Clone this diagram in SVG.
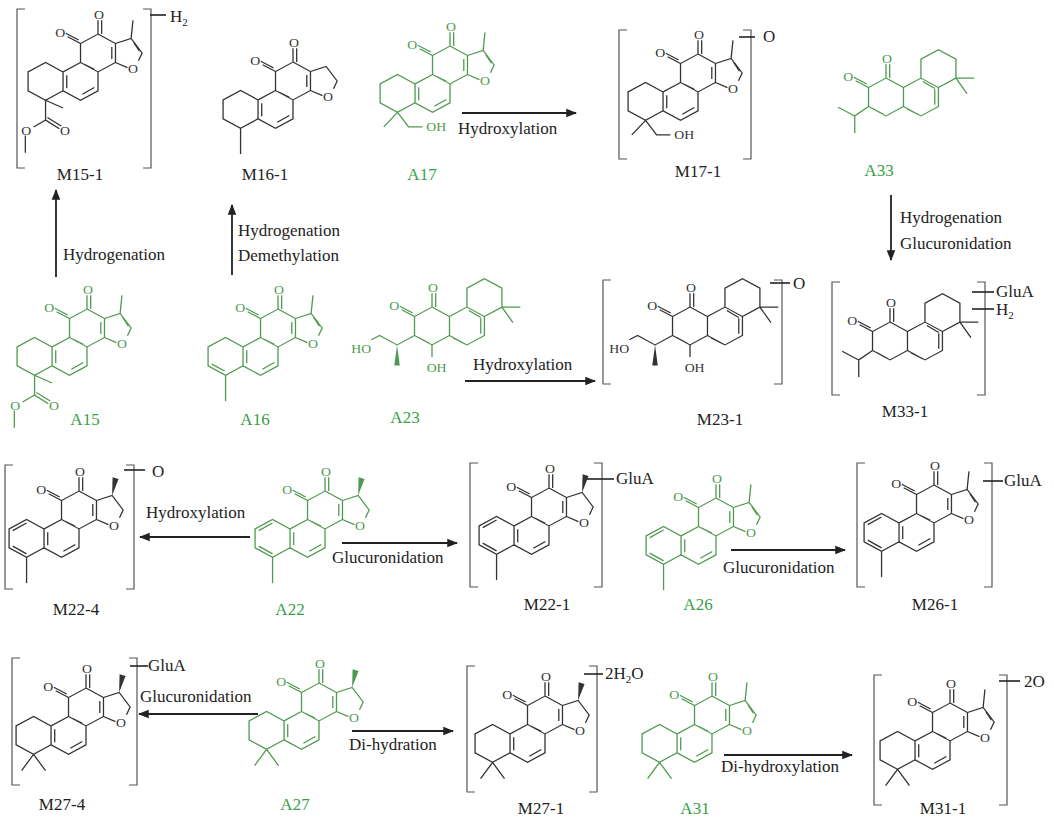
<svg xmlns="http://www.w3.org/2000/svg" width="1054" height="822" viewBox="0 0 1054 822">
<style>
text{font-family:"Liberation Serif","Times New Roman",serif;font-size:17px;fill:#222}
.g{fill:#3a9e48}
.at{font-size:15px;fill:currentColor;text-anchor:middle}
.b{fill:none;stroke:currentColor;stroke-width:1.4}
.w{fill:currentColor;stroke:none}
.br{fill:none;stroke:#555;stroke-width:1.2}
.tk{stroke:#222;stroke-width:1.6}
.ar{stroke:#222;stroke-width:1.8;marker-end:url(#ah)}
.lb{text-anchor:middle}
.gr{color:#4f9a4f}
.bk{color:#333}
</style>
<defs>
<marker id="ah" viewBox="0 0 10 10" refX="9" refY="5" markerWidth="6" markerHeight="6" orient="auto"><path d="M0,1 L10,5 L0,9Z" fill="#222"/></marker>
<g id="sk">
<path class="b" d="M0,-22 L19,-11 L19,11 L0,22 L-19,11 L-19,-11Z M0,22 L0,44 L-19,55 L-38,44 L-38,22 L-19,11 M-38,22 L-57,11 L-76,22 L-76,44 L-57,55 L-38,44 M19,-11 L36,-17 L48,0 L44,9 M32,17 L19,11 M0,-22 V-38 M4,-22 V-38 M-19,-11 L-33,-19 M-21,-15 L-35,-23 M-4,40 L-17,48 M-34,26 L-34,41 M15,-7 L15,7 M-15,13 L-4,19"/>
<text class="at" x="38" y="23">O</text>
<text class="at" x="1" y="-40">O</text>
<text class="at" x="-41" y="-19">O</text>
</g>
<path id="fme" class="b" d="M36,-17 L38,-38 M39,-12 L45,-2"/>
<path id="wedge" class="w" d="M36,-17 L36.5,-38 L43,-36Z"/>
<path id="arA" class="b" d="M-57,15 L-72,24 M-72,42 L-57,51"/>
<path id="meA" class="b" d="M-57,55 V85"/>
<path id="gem" class="b" d="M-57,55 L-70,74 M-57,55 L-44,74"/>
<g id="ester"><path class="b" d="M-57,55 L-38,64 M-57,55 L-57,78 L-42,88 M-55,75 L-40,85 M-57,78 L-70,86 M-79,96 V116"/><text class="at" x="-36" y="95">O</text><text class="at" x="-78" y="95">O</text></g>
<g id="ch2oh"><path class="b" d="M-57,55 L-72,72 M-57,55 L-45,72 L-30,72"/><text class="at" x="-15" y="77">OH</text></g>
<g id="sk2">
<path class="b" d="M0,-22 L19,-11 L19,11 L0,22 L-19,11 L-19,-11Z M19,-11 L38,-22 L57,-11 L57,11 L38,22 L19,11 M38,-22 L38,-44 L57,-55 L76,-44 L76,-22 L57,-11 M76,-22 L96,-22 M76,-22 L88,-4 M0,-22 V-38 M4,-22 V-38 M-19,-11 L-33,-19 M-21,-15 L-35,-23 M53,-9 V9 M23,14 L36,21 M40,-18 L53,-10 M-15,13 L-3,20"/>
<text class="at" x="1" y="-40">O</text>
<text class="at" x="-41" y="-19">O</text>
</g>
<path id="ipr" class="b" d="M-19,11 L-34,22 L-34,42 M-34,22 L-52,12"/>
<g id="hoch"><path class="b" d="M-19,11 L-38,22 L-57,11 L-66,16 M0,22 V36"/><path class="w" d="M-38,22 L-41,46 L-35,46Z"/><text class="at" x="-77" y="31">HO</text><text class="at" x="5" y="53">OH</text></g>
</defs>

<g id="connectors">
<line class="ar" x1="56" y1="277" x2="56" y2="190"/>
<line class="ar" x1="232" y1="275" x2="232" y2="205"/>
<line class="ar" x1="462" y1="113" x2="576" y2="113"/>
<line class="ar" x1="891" y1="195" x2="891" y2="260"/>
<line class="ar" x1="465" y1="381" x2="595" y2="381"/>
<line class="ar" x1="250" y1="537" x2="140" y2="537"/>
<line class="ar" x1="342" y1="543" x2="457" y2="543"/>
<line class="ar" x1="731" y1="550" x2="845" y2="550"/>
<line class="ar" x1="258" y1="714" x2="139" y2="714"/>
<line class="ar" x1="352" y1="731" x2="453" y2="731"/>
<line class="ar" x1="724" y1="755" x2="852" y2="755"/>
<text x="63" y="260">Hydrogenation</text>
<text x="238" y="236">Hydrogenation</text>
<text x="238" y="261">Demethylation</text>
<text x="458" y="134">Hydroxylation</text>
<text x="900" y="223">Hydrogenation</text>
<text x="900" y="249">Glucuronidation</text>
<text x="473" y="370">Hydroxylation</text>
<text x="146" y="518">Hydroxylation</text>
<text x="332" y="563">Glucuronidation</text>
<text x="723" y="573">Glucuronidation</text>
<text x="140" y="702">Glucuronidation</text>
<text x="349" y="750">Di-hydration</text>
<text x="721" y="772">Di-hydroxylation</text>
</g>

<g id="M15-1" class="bk"><g transform="translate(98,53) scale(0.92,0.86)"><use href="#sk"/><use href="#fme"/><use href="#ester"/></g>
<path class="br" d="M25,9 H17 V168 H25 M143,9 H151 V168 H143"/><path class="tk" d="M150,15 H166"/><text x="170" y="22">H<tspan font-size="11" dy="4">2</tspan></text><text class="lb" x="80" y="180">M15-1</text></g>
<g id="M16-1" class="bk"><g transform="translate(293,81) scale(0.92,0.86)"><use href="#sk"/><use href="#meA"/></g><text class="lb" x="265" y="180">M16-1</text></g>
<g id="A17" class="gr"><g transform="translate(450,65) scale(0.92,0.86)"><use href="#sk"/><use href="#fme"/><use href="#ch2oh"/></g><text class="lb g" x="422" y="180">A17</text></g>
<g id="M17-1" class="bk"><g transform="translate(698,73) scale(0.92,0.86)"><use href="#sk"/><use href="#fme"/><use href="#ch2oh"/></g>
<path class="br" d="M627,30 H619 V159 H627 M743,30 H751 V159 H743"/><path class="tk" d="M739,37 H755"/><text x="763" y="42">O</text><text class="lb" x="698" y="177">M17-1</text></g>
<g id="A33" class="gr"><g transform="translate(886,97) scale(0.92,0.86)"><use href="#sk2"/><use href="#ipr"/></g><text class="lb g" x="879" y="176">A33</text></g>

<g id="A15" class="gr"><g transform="translate(87,328) scale(0.92,0.86)"><use href="#sk"/><use href="#fme"/><use href="#ester"/></g><text class="lb g" x="85" y="425">A15</text></g>
<g id="A16" class="gr"><g transform="translate(278,328) scale(0.92,0.86)"><use href="#sk"/><use href="#fme"/><use href="#meA"/><path class="b" d="M-72,42 L-58,50"/></g><text class="lb g" x="255" y="425">A16</text></g>
<g id="A23" class="gr"><g transform="translate(432,326) scale(0.92,0.86)"><use href="#sk2"/><use href="#hoch"/></g><text class="lb g" x="405" y="423">A23</text></g>
<g id="M23-1" class="bk"><g transform="translate(690,326) scale(0.92,0.86)"><use href="#sk2"/><use href="#hoch"/></g>
<path class="br" d="M611,280 H603 V384 H611 M774,280 H782 V384 H774"/><path class="tk" d="M770,283 H790"/><text x="793" y="289">O</text><text class="lb" x="720" y="425">M23-1</text></g>
<g id="M33-1" class="bk"><g transform="translate(890,341) scale(0.92,0.86)"><use href="#sk2"/><use href="#ipr"/></g>
<path class="br" d="M840,282 H832 V395 H840 M977,282 H985 V395 H977"/><path class="tk" d="M972,292 H994"/><path class="tk" stroke-width="3" d="M972,309 H994"/><text x="996" y="297">GluA</text><text x="996" y="315">H<tspan font-size="11" dy="4">2</tspan></text><text class="lb" x="905" y="417">M33-1</text></g>

<g id="M22-4" class="bk"><g transform="translate(79,510) scale(0.92,0.86)"><use href="#sk"/><use href="#wedge"/><use href="#arA"/><use href="#meA"/></g>
<path class="br" d="M13,465 H5 V589 H13 M126,465 H134 V589 H126"/><path class="tk" d="M124,470 H145"/><text x="152" y="477" font-size="15">O</text><text class="lb" x="76" y="615">M22-4</text></g>
<g id="A22" class="gr"><g transform="translate(325,510) scale(0.92,0.86)"><use href="#sk"/><use href="#wedge"/><use href="#arA"/><use href="#meA"/></g><text class="lb g" x="290" y="615">A22</text></g>
<g id="M22-1" class="bk"><g transform="translate(549,507) scale(0.92,0.86)"><use href="#sk"/><use href="#wedge"/><use href="#arA"/><use href="#meA"/></g>
<path class="br" d="M478,463 H470 V587 H478 M594,463 H602 V587 H594"/><path class="tk" d="M587,479 H614"/><text x="616" y="484">GluA</text><text class="lb" x="547" y="610">M22-1</text></g>
<g id="A26" class="gr"><g transform="translate(716,517) scale(0.92,0.86)"><use href="#sk"/><use href="#fme"/><use href="#arA"/><use href="#meA"/></g><text class="lb g" x="698" y="610">A26</text></g>
<g id="M26-1" class="bk"><g transform="translate(934,504) scale(0.92,0.86)"><use href="#sk"/><use href="#fme"/><use href="#arA"/><use href="#meA"/></g>
<path class="br" d="M865,463 H857 V587 H865 M984,463 H992 V587 H984"/><path class="tk" d="M983,481 H1003"/><text x="1004" y="486">GluA</text><text class="lb" x="935" y="610">M26-1</text></g>

<g id="M27-4" class="bk"><g transform="translate(86,707) scale(0.92,0.86)"><use href="#sk"/><use href="#wedge"/><use href="#gem"/></g>
<path class="br" d="M20,658 H12 V785 H20 M129,658 H137 V785 H129"/><path class="tk" d="M130,666 H148"/><text x="148" y="671">GluA</text><text class="lb" x="62" y="810">M27-4</text></g>
<g id="A27" class="gr"><g transform="translate(319,702) scale(0.92,0.86)"><use href="#sk"/><use href="#wedge"/><use href="#gem"/></g><text class="lb g" x="295" y="810">A27</text></g>
<g id="M27-1" class="bk"><g transform="translate(545,715) scale(0.92,0.86)"><use href="#sk"/><use href="#wedge"/><use href="#gem"/></g>
<path class="br" d="M475,666 H467 V792 H475 M589,666 H597 V792 H589"/><path class="tk" d="M584,674 H603"/><text x="605" y="679">2H<tspan font-size="11" dy="4">2</tspan><tspan dy="-4">O</tspan></text><text class="lb" x="541" y="814">M27-1</text></g>
<g id="A31" class="gr"><g transform="translate(712,715) scale(0.92,0.86)"><use href="#sk"/><use href="#fme"/><use href="#gem"/></g><text class="lb g" x="695" y="814">A31</text></g>
<g id="M31-1" class="bk"><g transform="translate(950,722) scale(0.92,0.86)"><use href="#sk"/><use href="#fme"/><use href="#gem"/></g>
<path class="br" d="M882,675 H874 V805 H882 M999,675 H1007 V805 H999"/><path class="tk" d="M999,681 H1020"/><text x="1024" y="687">2O</text><text class="lb" x="943" y="814">M31-1</text></g>
</svg>
